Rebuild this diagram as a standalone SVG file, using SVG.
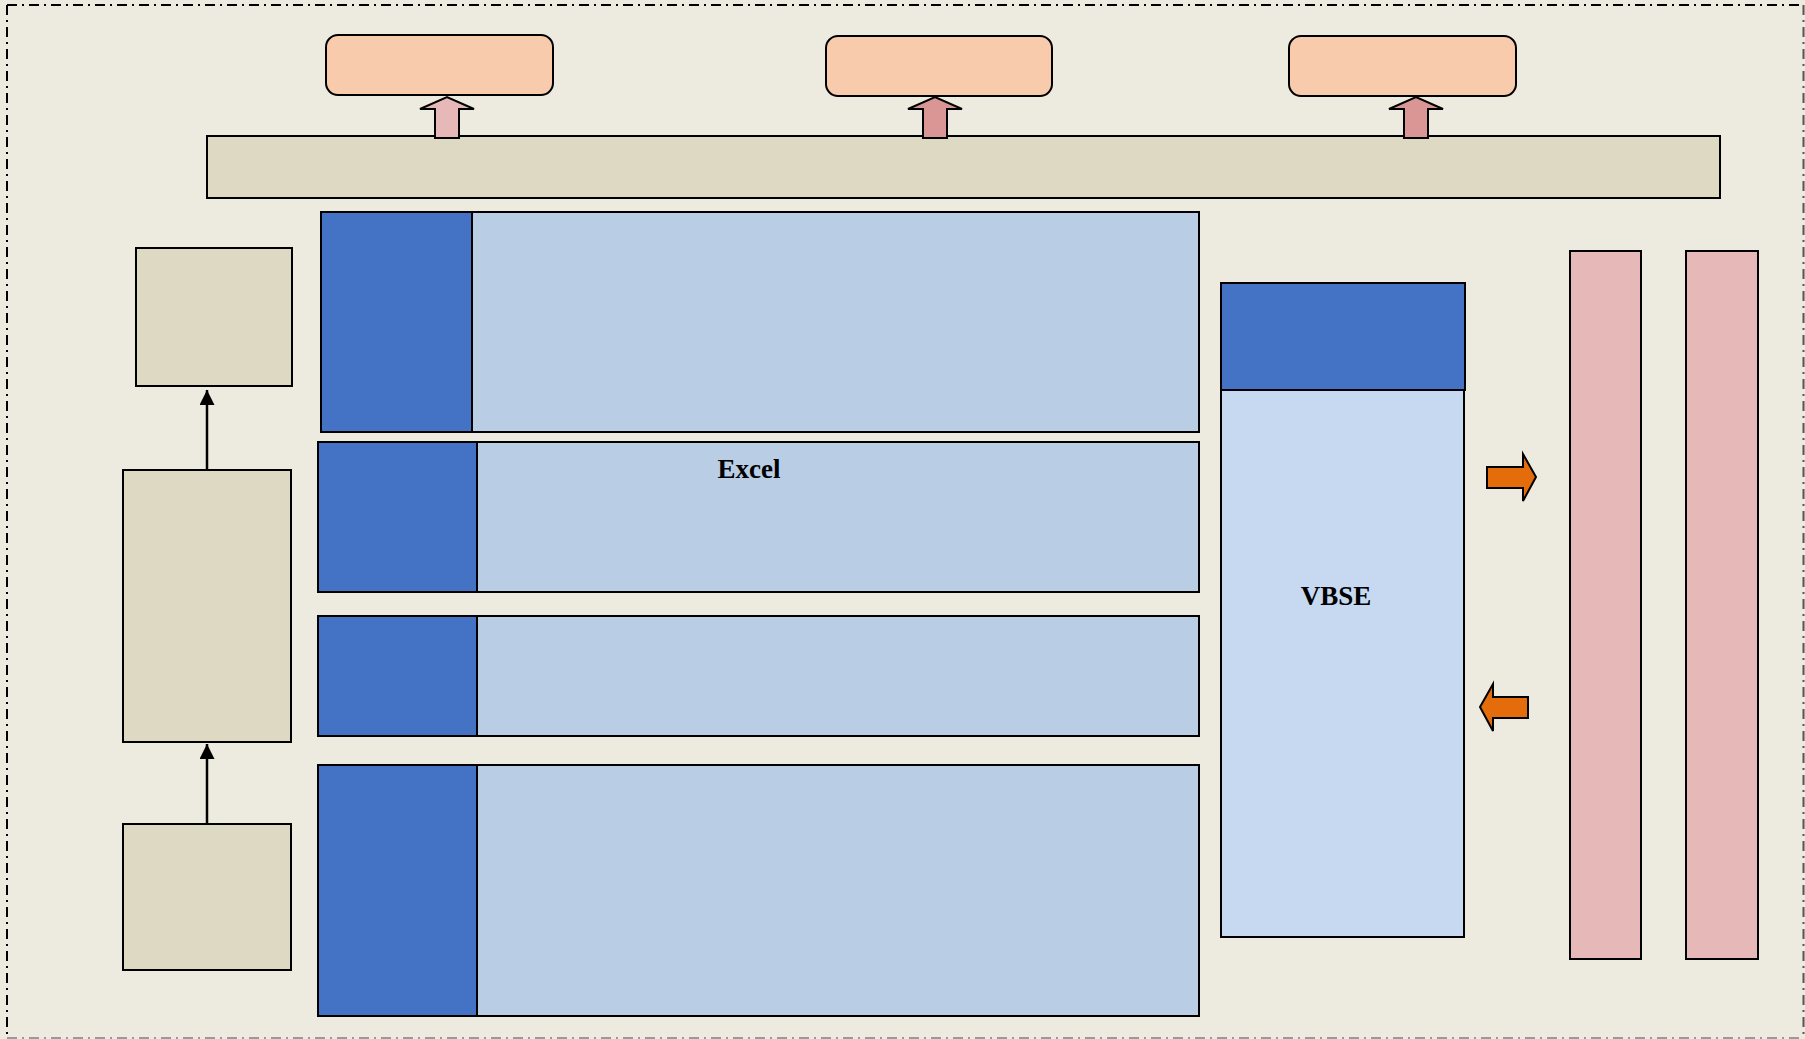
<svg xmlns="http://www.w3.org/2000/svg" width="1805" height="1039" viewBox="0 0 1805 1039">
<defs>
<style>
.bg{fill:#EDEBE0;stroke:none}
.tan{fill:#DDD9C3;stroke:#000;stroke-width:2}
.peach{fill:#F8CBAD;stroke:#000;stroke-width:2}
.dk{fill:#4472C4;stroke:#000;stroke-width:2}
.lt{fill:#B9CDE5;stroke:#000;stroke-width:2}
.vb{fill:#C6D9F1;stroke:#000;stroke-width:2}
.pink{fill:#E6B8B7;stroke:#000;stroke-width:2}
.up1{fill:#E6B8B7;stroke:#000;stroke-width:2}
.up2{fill:#DA9694;stroke:#000;stroke-width:2}
.or{fill:#E46C0A;stroke:#000;stroke-width:2}
.lbl{font-family:"Liberation Serif","Times New Roman",serif;font-weight:bold;font-size:27px;fill:#000;text-anchor:middle}
.conn{stroke:#000;stroke-width:2.5;fill:none}
</style>
<marker id="ah" viewBox="0 0 10 10" refX="10" refY="5" markerWidth="6" markerHeight="6" markerUnits="strokeWidth" orient="auto">
<path d="M0,0 L10,5 L0,10 Z" fill="#000"/>
</marker>
</defs>
<rect class="bg" x="0" y="0" width="1805" height="1039"/>
<g id="frame" fill="none" stroke-width="2">
<line x1="7" y1="5" x2="1803" y2="5" stroke="#000" stroke-dasharray="10,5,2,5"/>
<line x1="7" y1="5" x2="7" y2="1038" stroke="#000" stroke-dasharray="10,5,2,5"/>
<line x1="1803.5" y1="5" x2="1803.5" y2="1038" stroke="#555" stroke-dasharray="10,5,2,5"/>
<line x1="7" y1="1038" x2="1803" y2="1038" stroke="#999" stroke-dasharray="10,5,2,5"/>
</g>
<g id="out1"><rect class="peach" x="326" y="35" width="227" height="60" rx="12"/></g>
<g id="out2"><rect class="peach" x="826" y="36" width="226" height="60" rx="12"/></g>
<g id="out3"><rect class="peach" x="1289" y="36" width="227" height="60" rx="12"/></g>
<g id="platform"><rect class="tan" x="207" y="136" width="1513" height="62"/></g>
<g id="row1"><rect class="lt" x="321" y="212" width="878" height="220"/><rect class="dk" x="321" y="212" width="151" height="220"/></g>
<g id="row2"><rect class="lt" x="318" y="442" width="881" height="150"/><rect class="dk" x="318" y="442" width="159" height="150"/><text class="lbl" x="749" y="478">Excel</text></g>
<g id="row3"><rect class="lt" x="318" y="616" width="881" height="120"/><rect class="dk" x="318" y="616" width="159" height="120"/></g>
<g id="row4"><rect class="lt" x="318" y="765" width="881" height="251"/><rect class="dk" x="318" y="765" width="159" height="251"/></g>
<g id="vbse"><rect class="vb" x="1221" y="390" width="243" height="547"/><rect class="dk" x="1221" y="283" width="244" height="107"/><text class="lbl" x="1336" y="605">VBSE</text></g>
<g id="bar1"><rect class="pink" x="1570" y="251" width="71" height="708"/></g>
<g id="bar2"><rect class="pink" x="1686" y="251" width="72" height="708"/></g>
<g id="left1"><rect class="tan" x="136" y="248" width="156" height="138"/></g>
<g id="left2"><rect class="tan" x="123" y="470" width="168" height="272"/></g>
<g id="left3"><rect class="tan" x="123" y="824" width="168" height="146"/></g>
<g id="connectors">
<line class="conn" x1="207" y1="470" x2="207" y2="390" marker-end="url(#ah)"/>
<line class="conn" x1="207" y1="824" x2="207" y2="744" marker-end="url(#ah)"/>
<path class="up1" d="M435,138 L435,109 L420,109 L447,97 L474,109 L459,109 L459,138 Z"/>
<path class="up2" d="M923,138 L923,109 L908,109 L935,97 L962,109 L947,109 L947,138 Z"/>
<path class="up2" d="M1404,138 L1404,109 L1389,109 L1416,97 L1443,109 L1428,109 L1428,138 Z"/>
<path class="or" d="M1487,467 L1523,467 L1523,454 L1536,477 L1523,501 L1523,488 L1487,488 Z"/>
<path class="or" d="M1528,697 L1493,697 L1493,684 L1480,707 L1493,731 L1493,718 L1528,718 Z"/>
</g>
</svg>
